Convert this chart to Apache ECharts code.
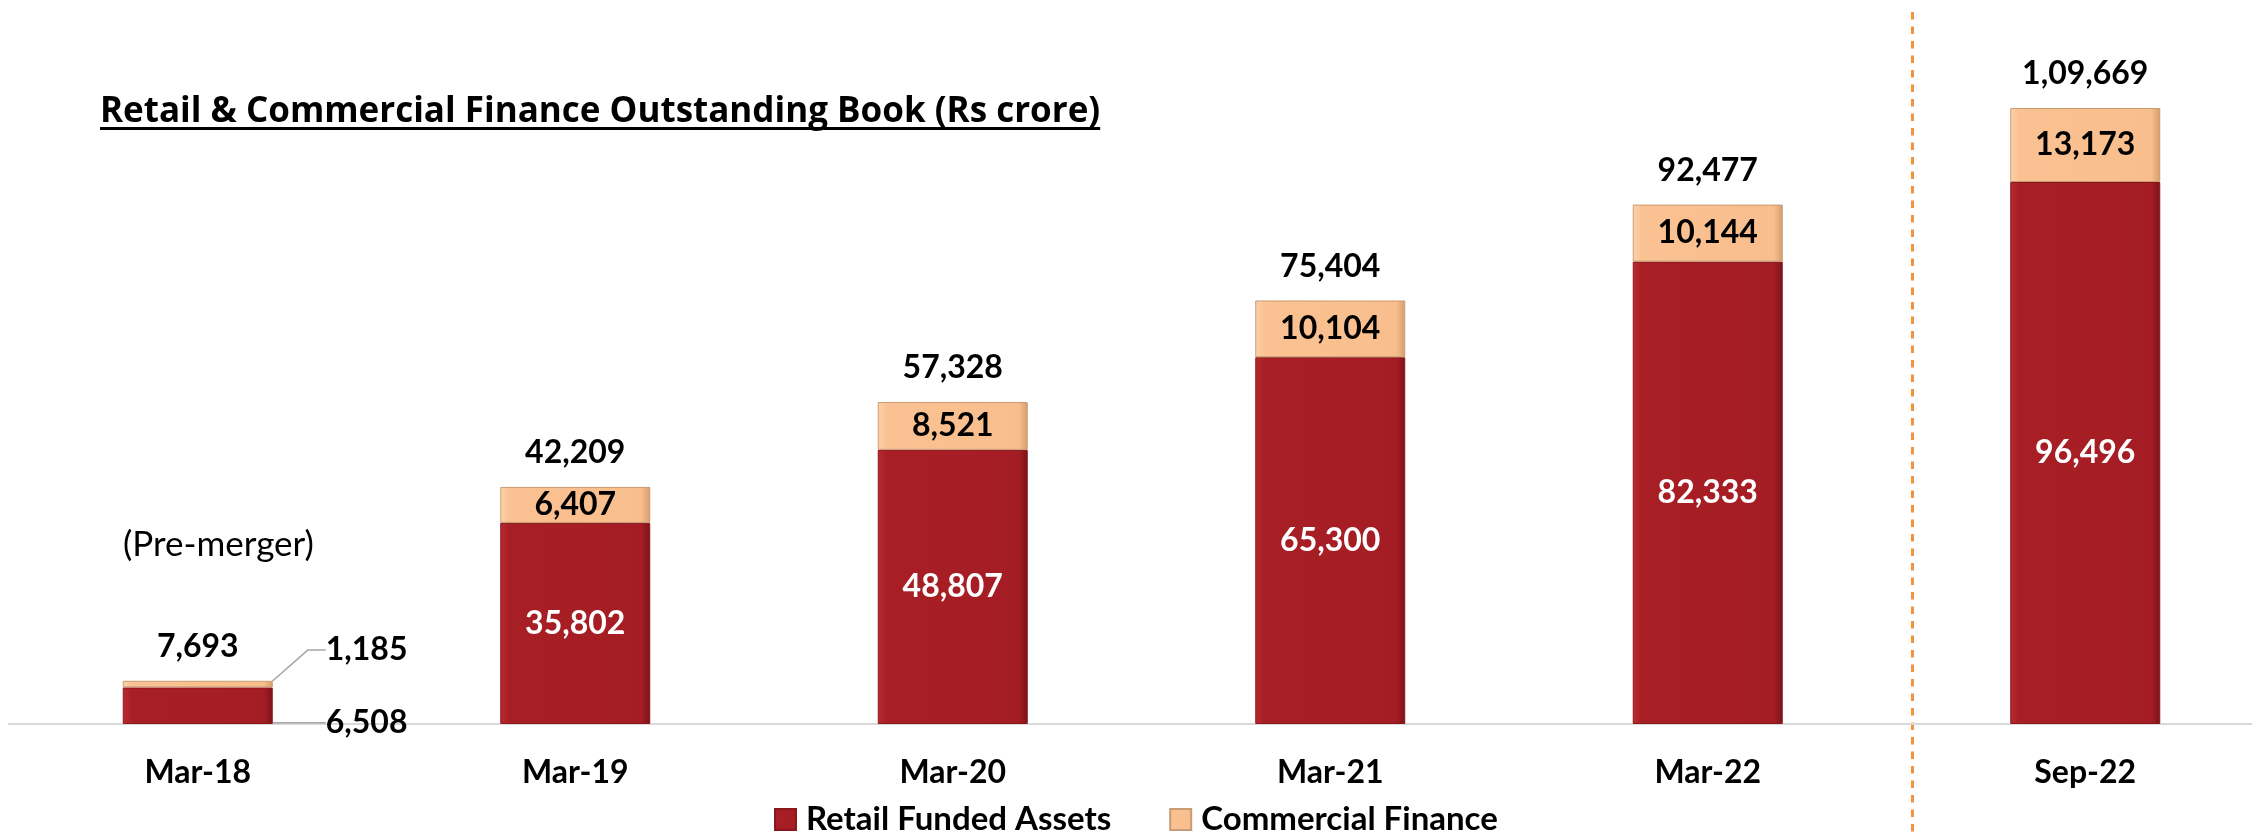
<!DOCTYPE html>
<html>
<head>
<meta charset="utf-8">
<title>Retail & Commercial Finance Outstanding Book</title>
<script src="https://cdn.jsdelivr.net/npm/echarts@6/dist/echarts.min.js"></script>
<style>
  html, body { margin: 0; padding: 0; background: #fff; }
  #main { width: 2252px; height: 838px; }
</style>
</head>
<body>
<div id="main"></div>
<script>
// chart data (Rs crore)
const categories = ['Mar-18', 'Mar-19', 'Mar-20', 'Mar-21', 'Mar-22', 'Sep-22']
const retailFunded = [6508, 35802, 48807, 65300, 82333, 96496]
const commercialFinance = [1185, 6407, 8521, 10104, 10144, 13173]
const totals = [7693, 42209, 57328, 75404, 92477, 109669]

const titleText = 'Retail & Commercial Finance Outstanding Book (Rs crore)'
const FONT = 'Lato, "Open Sans", sans-serif'

// indian digit grouping: 1,09,669
function inr(v) {
  const s = String(v)
  if (s.length <= 3) return s
  const rest = s.slice(0, -3).replace(/\B(?=(\d{2})+(?!\d))/g, ',')
  return rest + ',' + s.slice(-3)
}

// horizontal gradient to fake the bevelled look of the bars
const redFill = {
  type: 'linear', x: 0, y: 0, x2: 1, y2: 0,
  colorStops: [
    { offset: 0, color: '#B92A31' },
    { offset: 0.06, color: '#A81E25' },
    { offset: 0.94, color: '#A51D24' },
    { offset: 1, color: '#7A1418' }
  ]
}
const peachFill = {
  type: 'linear', x: 0, y: 0, x2: 1, y2: 0,
  colorStops: [
    { offset: 0, color: '#FCD3AC' },
    { offset: 0.06, color: '#FAC192' },
    { offset: 0.94, color: '#F9BE8D' },
    { offset: 1, color: '#D59C6D' }
  ]
}

const chart = echarts.init(document.getElementById('main'))

// first category (pre-merger) has its labels outside with guide lines
const guideLine = { show: true, length2: 18, lineStyle: { color: '#A6A6A6', width: 1.5 } }

const retailData = retailFunded.map((v, i) => {
  if (i === 0) {
    return { value: v, label: { position: 'right', distance: 53, color: '#000' }, labelLine: guideLine }
  }
  return v
})
const commercialData = commercialFinance.map((v, i) => {
  if (i === 0) {
    return { value: v, label: { position: 'right', distance: 53 }, labelLine: guideLine }
  }
  return v
})

const option = {
  backgroundColor: '#fff',
  animation: false,
  textStyle: { fontFamily: FONT },
  // grid runs a bit past the right edge, like the original slide
  grid: { left: 9, width: 2265, top: 50, height: 674, outerBoundsMode: 'none' },
  legend: {
    data: ['Retail Funded Assets', 'Commercial Finance'],
    left: 774,
    top: 803,
    padding: 0,
    icon: 'rect',
    itemWidth: 21,
    itemHeight: 21,
    itemGap: 58,
    textStyle: { fontSize: 33, fontWeight: 'bold', color: '#000', fontFamily: FONT, padding: [0, 0, 0, 5] }
  },
  xAxis: {
    type: 'category',
    data: categories,
    axisLine: { lineStyle: { color: '#D9D9D9', width: 2 } },
    axisTick: { show: false },
    axisLabel: { margin: 33, fontSize: 32, fontWeight: 'bold', color: '#000', fontFamily: FONT }
  },
  yAxis: {
    type: 'value',
    min: 0,
    max: 120000,
    show: false,
    splitLine: { show: false }
  },
  series: [
    {
      name: 'Retail Funded Assets',
      type: 'bar',
      stack: 'book',
      barWidth: 150,
      data: retailData,
      itemStyle: { color: redFill, borderColor: '#8A171C', borderWidth: 1 },
      label: {
        show: true,
        position: 'inside',
        offset: [0, 4],
        color: '#fff',
        fontSize: 32,
        fontWeight: 'bold',
        fontFamily: FONT,
        formatter: p => inr(p.value)
      },
      labelLayout: params => {
        if (params.dataIndex === 0) return { dy: 17 }
      }
    },
    {
      name: 'Commercial Finance',
      type: 'bar',
      stack: 'book',
      barWidth: 150,
      data: commercialData,
      itemStyle: { color: peachFill, borderColor: '#C99B74', borderWidth: 1 },
      label: {
        show: true,
        position: 'inside',
        offset: [0, 4],
        color: '#000',
        fontSize: 32,
        fontWeight: 'bold',
        fontFamily: FONT,
        formatter: p => inr(p.value)
      },
      labelLayout: params => {
        if (params.dataIndex === 0) return { dy: -34 }
      }
    },
    {
      // invisible zero bar on top of the stack, only carries the total label
      name: 'Total',
      type: 'bar',
      stack: 'book',
      barWidth: 150,
      silent: true,
      data: totals.map(() => 0),
      itemStyle: { color: 'transparent' },
      label: {
        show: true,
        position: 'top',
        distance: 18,
        color: '#000',
        fontSize: 32,
        fontWeight: 'bold',
        fontFamily: FONT,
        formatter: p => inr(totals[p.dataIndex])
      }
    }
  ]
}
chart.setOption(option)

// title width, for the underline
const ctx = document.createElement('canvas').getContext('2d')
const titleFont = 'bold 35px "Open Sans", Lato, sans-serif'
ctx.font = titleFont
const titleW = ctx.measureText(titleText).width

// dashed separator between Mar-22 and Sep-22
const x4 = chart.convertToPixel({ xAxisIndex: 0 }, categories[4])
const x5 = chart.convertToPixel({ xAxisIndex: 0 }, categories[5])
const sepX = Math.round(x4 + (x5 - x4) * 0.54) + 0.5

chart.setOption({
  graphic: [
    {
      type: 'text',
      x: 100,
      y: 112,
      style: { text: titleText, font: titleFont, fill: '#000', verticalAlign: 'middle' }
    },
    {
      type: 'rect',
      shape: { x: 100, y: 127, width: titleW, height: 3 },
      style: { fill: '#000' }
    },
    {
      type: 'text',
      x: 123,
      y: 545,
      style: { text: '(Pre-merger)', font: '35px Lato, sans-serif', fill: '#000', verticalAlign: 'middle' }
    },
    {
      type: 'line',
      shape: { x1: sepX, y1: 12, x2: sepX, y2: 838 },
      style: { stroke: '#F5923E', lineWidth: 3, lineDash: [7.5, 7] }
    }
  ]
})
</script>
</body>
</html>
